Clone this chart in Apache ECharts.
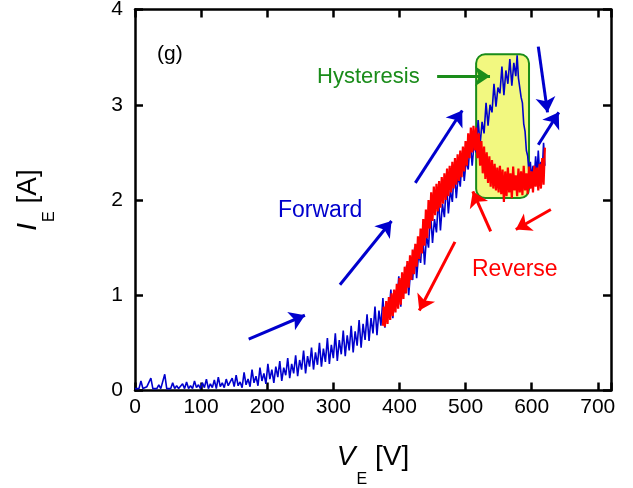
<!DOCTYPE html>
<html>
<head>
<meta charset="utf-8">
<script src="https://cdn.jsdelivr.net/npm/echarts@6/dist/echarts.min.js"></script>
<style>
  html, body { margin: 0; padding: 0; background: #fff; }
  #chart { width: 633px; height: 488px; }
</style>
</head>
<body>
<div id="chart"></div>
<script>
// Forward sweep: [V_E (V), I_E (A)]
const forwardSweep = [
  [0,0.02],[3,0.03],[6,0.02],[9,0.10],[12,0.02],[15,0.02],[18,0.04],[21,0.02],[24,0.13],[27,0.02],
  [30,0.03],[33,0.02],[36,0.06],[39,0.02],[42,0.02],[45,0.17],[48,0.02],[51,0.04],[54,0.02],[57,0.08],
  [60,0.02],[63,0.05],[66,0.02],[69,0.03],[72,0.07],[75,0.02],[78,0.09],[81,0.02],[84,0.05],[87,0.02],
  [90,0.10],[93,0.03],[96,0.06],[99,0.02],[102,0.08],[105,0.03],[108,0.12],[111,0.02],[114,0.07],[117,0.03],
  [120,0.11],[123,0.02],[126,0.14],[129,0.04],[132,0.08],[135,0.03],[138,0.12],[141,0.05],[144,0.03],[147,0.13],
  [150,0.04],[153,0.16],[156,0.05],[159,0.09],[162,0.03],[165,0.19],[168,0.06],[171,0.12],[174,0.04],[177,0.22],
  [180,0.08],[183,0.15],[186,0.05],[189,0.24],[192,0.10],[195,0.18],[198,0.07],[201,0.28],[204,0.12],[207,0.22],
  [210,0.08],[213,0.25],[216,0.14],[219,0.31],[222,0.10],[225,0.24],[228,0.16],[231,0.34],[234,0.13],[237,0.28],
  [240,0.18],[243,0.37],[246,0.15],[249,0.32],[252,0.22],[255,0.42],[258,0.18],[261,0.36],[264,0.25],[267,0.45],
  [270,0.22],[273,0.40],[276,0.27],[279,0.50],[282,0.25],[285,0.44],[288,0.30],[291,0.55],[294,0.28],[297,0.48],
  [300,0.34],[303,0.60],[306,0.31],[309,0.53],[312,0.38],[315,0.63],[318,0.36],[321,0.58],[324,0.42],[327,0.68],
  [330,0.40],[333,0.62],[336,0.47],[339,0.74],[342,0.45],[345,0.70],[348,0.53],[351,0.80],[354,0.52],[357,0.76],
  [360,0.60],[363,0.88],[366,0.58],[369,0.84],[372,0.68],[375,0.97],[378,0.66],[381,0.92],[384,0.78],[387,1.06],
  [390,0.76],[393,1.02],[396,0.90],[399,1.20],[402,0.88],[405,1.14],[408,1.02],[411,1.32],[414,1.00],[417,1.28],
  [420,1.16],[423,1.50],[426,1.18],[429,1.44],[432,1.34],[435,1.66],[438,1.32],[441,1.62],[444,1.50],[447,1.88],
  [450,1.55],[453,1.80],[456,1.66],[459,2.02],[462,1.68],[465,1.96],[468,1.82],[471,2.18],[474,1.86],[477,2.10],
  [480,1.98],[483,2.32],[486,2.02],[489,2.26],[492,2.14],[495,2.48],[498,2.20],[501,2.42],[504,2.32],[507,2.62],
  [510,2.36],[513,2.60],[516,2.50],[519,2.84],[522,2.58],[525,2.82],[528,2.70],[531,3.02],[534,2.78],[537,3.00],
  [540,2.92],[543,3.22],[546,2.98],[549,3.18],[552,3.12],[555,3.40],[558,3.10],[561,3.36],[564,3.22],[567,3.48],
  [570,3.20],[573,3.44],[576,3.30],[578,3.52],[580,3.28],[582,3.30],[584,3.08],[586,3.02],[588,2.80],[590,2.72],
  [592,2.52],[594,2.46],[596,2.28],[598,2.40],[600,2.22],[602,2.36],[604,2.24],[606,2.46],[608,2.26],[610,2.52],
  [612,2.28],[614,2.40],[616,2.30],[618,2.60],[620,2.36]
];

// Reverse sweep: [V_E (V), I_E (A)], from high voltage back down
const reverseSweep = [
  [620,2.55],[618,2.16],[616,2.44],[614,2.12],[612,2.38],[610,2.10],[608,2.34],[606,2.14],[604,2.36],[602,2.08],
  [600,2.30],[598,2.12],[596,2.35],[594,2.06],[592,2.28],[590,2.10],[588,2.36],[586,2.05],[584,2.30],[582,2.08],
  [580,2.33],[578,2.04],[576,2.26],[574,2.10],[572,2.35],[570,2.02],[568,2.28],[566,2.08],[564,2.34],[562,2.04],
  [560,2.30],[558,1.98],[556,2.32],[554,2.06],[552,2.36],[550,2.08],[548,2.34],[546,2.10],[544,2.38],[542,2.12],
  [540,2.42],[538,2.14],[536,2.46],[534,2.18],[532,2.50],[530,2.22],[528,2.56],[526,2.28],[524,2.62],[522,2.36],
  [520,2.70],[518,2.44],[516,2.76],[514,2.52],[512,2.78],[510,2.50],[508,2.76],[506,2.44],[504,2.70],[502,2.36],
  [500,2.62],[498,2.30],[496,2.56],[494,2.24],[492,2.52],[490,2.20],[488,2.48],[486,2.16],[484,2.44],[482,2.12],
  [480,2.40],[478,2.08],[476,2.36],[474,2.04],[472,2.33],[470,2.00],[468,2.28],[466,1.96],[464,2.24],[462,1.92],
  [460,2.20],[458,1.88],[456,2.17],[454,1.84],[452,2.14],[450,1.78],[448,2.08],[446,1.70],[444,2.00],[442,1.60],
  [440,1.90],[438,1.52],[436,1.80],[434,1.44],[432,1.70],[430,1.38],[428,1.62],[426,1.30],[424,1.54],[422,1.22],
  [420,1.48],[418,1.16],[416,1.42],[414,1.08],[412,1.36],[410,1.02],[408,1.30],[406,0.96],[404,1.24],[402,0.90],
  [400,1.18],[398,0.86],[396,1.12],[394,0.82],[392,1.06],[390,0.78],[388,1.02],[386,0.74],[384,0.98],[382,0.70],
  [380,0.94],[378,0.67],[376,0.88],[375,0.68]
];

// Highlighted hysteresis window: [V min, V max, I min, I max]
const hysteresisBox = [516, 596, 2.02, 3.53];

// Direction arrows, each [[V start, I start], [V end, I end]]
const forwardArrows = [
  [[172, 0.54], [257, 0.79]],
  [[310, 1.11], [388, 1.78]],
  [[424, 2.18], [495, 2.94]],
  [[610, 3.61], [624, 2.92]],
  [[610, 2.58], [641, 2.92]]
];
const reverseArrows = [
  [[484, 1.56], [430, 0.84]],
  [[538, 1.67], [511, 2.09]],
  [[629, 1.90], [576, 1.69]]
];
const hysteresisArrow = [[[457, 3.30], [537, 3.30]]];

// Axis ticks
const xTicks = [0, 100, 200, 300, 400, 500, 600, 700];
const yTicks = [0, 1, 2, 3, 4];

const BLUE = '#0000cd';
const RED = '#ff0000';
const GREEN = '#1a8c1a';
const FONT = '"Liberation Sans", Arial, sans-serif';

const chart = echarts.init(document.getElementById('chart'), null, { renderer: 'canvas' });

const axisLineStyle = { color: '#000', width: 2.5 };
const tickStyle = { show: true, inside: true, length: 8, lineStyle: { color: '#000', width: 2.5 } };

const titleRich = {
  v: { fontSize: 28, fontStyle: 'italic', fontFamily: FONT, color: '#000', verticalAlign: 'top', lineHeight: 30 },
  s: { fontSize: 16, fontFamily: FONT, color: '#000', verticalAlign: 'top', lineHeight: 18, padding: [28, 0, 0, 1] },
  u: { fontSize: 28, fontFamily: FONT, color: '#000', verticalAlign: 'top', lineHeight: 30 }
};

function arrowSeries(list, color, z) {
  return {
    type: 'lines',
    coordinateSystem: 'cartesian2d',
    xAxisIndex: 0, yAxisIndex: 0,
    symbol: ['none', 'arrow'],
    symbolSize: 15,
    silent: true,
    z: z,
    lineStyle: { color: color, width: 3, opacity: 1 },
    data: list.map(c => ({ coords: c }))
  };
}

chart.setOption({
  animation: false,
  backgroundColor: '#fff',
  grid: { left: 135, right: 22, top: 9.5, bottom: 97.5, containLabel: false, outerBoundsMode: 'none' },
  xAxis: [
    {
      type: 'value', min: 0, max: 720, interval: 100, position: 'bottom',
      axisLine: { show: true, onZero: false, lineStyle: axisLineStyle },
      axisTick: tickStyle,
      splitLine: { show: false },
      axisLabel: {
        margin: 6, fontSize: 21, color: '#000', fontFamily: FONT,
        formatter: v => (xTicks.indexOf(v) >= 0 ? String(v) : '')
      },
      name: '{v|V}{s|E}{u| [V]}',
      nameLocation: 'middle',
      nameGap: 53,
      nameTextStyle: { rich: titleRich }
    },
    {
      type: 'value', min: 0, max: 720, interval: 100, position: 'top',
      axisLine: { show: true, onZero: false, lineStyle: axisLineStyle },
      axisTick: tickStyle,
      axisLabel: { show: false },
      splitLine: { show: false }
    }
  ],
  yAxis: [
    {
      type: 'value', min: 0, max: 4, interval: 1, position: 'left',
      axisLine: { show: true, onZero: false, lineStyle: axisLineStyle },
      axisTick: tickStyle,
      splitLine: { show: false },
      axisLabel: {
        margin: 12, fontSize: 21, color: '#000', fontFamily: FONT,
        formatter: v => (yTicks.indexOf(v) >= 0 ? String(v) : '')
      },
      name: '{v|I}{s|E}{u| [A]}',
      nameLocation: 'middle',
      nameRotate: 90,
      nameGap: 91,
      nameTextStyle: { rich: titleRich }
    },
    {
      type: 'value', min: 0, max: 4, interval: 1, position: 'right',
      axisLine: { show: true, onZero: false, lineStyle: axisLineStyle },
      axisTick: tickStyle,
      axisLabel: { show: false },
      splitLine: { show: false }
    }
  ],
  series: [
    {
      // rounded highlight box around the hysteresis loop
      type: 'custom',
      xAxisIndex: 0, yAxisIndex: 0,
      z: 1,
      silent: true,
      data: [hysteresisBox],
      renderItem: function (params, api) {
        const p0 = api.coord([api.value(0), api.value(3)]);
        const p1 = api.coord([api.value(1), api.value(2)]);
        return {
          type: 'rect',
          shape: { x: p0[0], y: p0[1], width: p1[0] - p0[0], height: p1[1] - p0[1], r: 9 },
          style: { fill: '#f2f880', stroke: GREEN, lineWidth: 2 }
        };
      }
    },
    {
      name: 'Forward',
      type: 'line',
      xAxisIndex: 0, yAxisIndex: 0,
      z: 2,
      data: forwardSweep,
      showSymbol: false,
      symbol: 'none',
      lineStyle: { color: BLUE, width: 1.6 },
      silent: true
    },
    {
      name: 'Reverse',
      type: 'line',
      xAxisIndex: 0, yAxisIndex: 0,
      z: 3,
      data: reverseSweep,
      showSymbol: false,
      symbol: 'none',
      lineStyle: { color: RED, width: 2.2 },
      silent: true
    },
    arrowSeries(forwardArrows, BLUE, 4),
    arrowSeries(reverseArrows, RED, 4),
    arrowSeries(hysteresisArrow, GREEN, 4)
  ],
  graphic: [
    { type: 'text', x: 157, y: 54, z: 10, style: { text: '(g)', font: '21px ' + FONT, fill: '#000', verticalAlign: 'middle' } },
    { type: 'text', x: 317, y: 77, z: 10, style: { text: 'Hysteresis', font: '22px ' + FONT, fill: GREEN, verticalAlign: 'middle' } },
    { type: 'text', x: 278, y: 211, z: 10, style: { text: 'Forward', font: '23px ' + FONT, fill: BLUE, verticalAlign: 'middle' } },
    { type: 'text', x: 472, y: 270, z: 10, style: { text: 'Reverse', font: '23px ' + FONT, fill: RED, verticalAlign: 'middle' } }
  ]
});
</script>
</body>
</html>
